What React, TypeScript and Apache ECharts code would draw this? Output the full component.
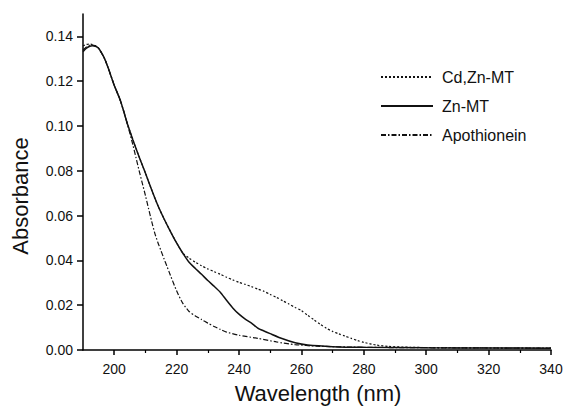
import React, { useEffect, useRef } from "react";
import * as echarts from "echarts";

// ---- data ----
const sharedWl = [190, 191, 192, 193, 194, 195, 196, 197, 198, 199, 200, 201, 202, 203, 204];
const cdZnHead = [0.1358, 0.1364, 0.1366, 0.1364, 0.1358, 0.1347, 0.1325, 0.1298, 0.1262, 0.1222, 0.1182, 0.1148, 0.1113, 0.1068, 0.102];
const znHead = [0.1332, 0.1346, 0.1355, 0.1358, 0.1356, 0.1347, 0.1325, 0.1298, 0.1262, 0.1222, 0.1182, 0.1148, 0.1113, 0.1068, 0.102];
const apoHead = [0.134, 0.1352, 0.136, 0.1361, 0.1357, 0.1347, 0.1325, 0.1298, 0.1262, 0.1222, 0.1182, 0.1148, 0.1113, 0.1068, 0.102];

const metalWl = [205, 206, 208, 210, 212, 214, 216, 218, 220, 222];
const metalAbs = [0.0978, 0.0937, 0.0862, 0.079, 0.0715, 0.0645, 0.0585, 0.053, 0.0478, 0.0432];

const cdZnTailWl = [224, 226, 228, 230, 232, 234, 236, 238, 240, 242, 244, 246, 248, 250, 252, 254, 256, 258, 260, 262, 264, 266, 268, 270, 272, 274, 276, 278, 280, 284, 288, 295, 300, 320, 340];
const cdZnTailAbs = [0.041, 0.0392, 0.0376, 0.0362, 0.035, 0.0338, 0.0325, 0.0313, 0.0302, 0.0293, 0.0283, 0.0272, 0.0262, 0.0248, 0.0235, 0.022, 0.0205, 0.019, 0.0176, 0.0155, 0.0135, 0.0115, 0.0097, 0.0083, 0.0072, 0.0062, 0.0052, 0.0042, 0.0034, 0.0022, 0.0016, 0.0012, 0.0011, 0.0009, 0.0008];

const znTailWl = [224, 226, 228, 230, 232, 234, 236, 238, 240, 242, 244, 246, 248, 250, 254, 258, 262, 270, 280, 300, 320, 340];
const znTailAbs = [0.0392, 0.0364, 0.0338, 0.031, 0.0285, 0.0258, 0.0222, 0.0188, 0.016, 0.0138, 0.012, 0.0098, 0.0085, 0.0073, 0.005, 0.0032, 0.0022, 0.0015, 0.0012, 0.001, 0.0009, 0.0008];

const apoTailWl = [205, 206, 207, 208, 209, 210, 211, 212, 213, 214, 215, 216, 217, 218, 220, 222, 224, 226, 228, 230, 232, 234, 236, 240, 246, 252, 258, 265, 280, 300, 320, 340];
const apoTailAbs = [0.0968, 0.0915, 0.0858, 0.08, 0.0745, 0.069, 0.0632, 0.0575, 0.0522, 0.048, 0.0443, 0.0406, 0.037, 0.0334, 0.0264, 0.0208, 0.0172, 0.0152, 0.0136, 0.012, 0.0105, 0.0092, 0.008, 0.0066, 0.0052, 0.0036, 0.0024, 0.0017, 0.0012, 0.001, 0.0009, 0.0008];

const xMajorTicks = [200, 220, 240, 260, 280, 300, 320, 340];
const xMinorTicks = [210, 230, 250, 270, 290, 310, 330];
const yTicks = [0, 0.02, 0.04, 0.06, 0.08, 0.1, 0.12, 0.14];

const seriesNames = ["Cd,Zn-MT", "Zn-MT", "Apothionein"];

const zip = (xs: number[], ys: number[]) => xs.map((x, i) => [x, ys[i]]);

const cdZnData = [...zip(sharedWl, cdZnHead), ...zip(metalWl, metalAbs), ...zip(cdZnTailWl, cdZnTailAbs)];
const znData = [...zip(sharedWl, znHead), ...zip(metalWl, metalAbs), ...zip(znTailWl, znTailAbs)];
const apoData = [...zip(sharedWl, apoHead), ...zip(apoTailWl, apoTailAbs)];

const FONT = "'Liberation Sans', Arial, Helvetica, sans-serif";

export default function App() {
  const ref = useRef<HTMLDivElement>(null);
  useEffect(() => {
    if (!ref.current) return;
    const chart = echarts.init(ref.current, null, { renderer: "svg" });
    const axisLine = { show: true, lineStyle: { color: "#000", width: 1.5 } };
    chart.setOption({
      animation: false,
      backgroundColor: "#fff",
      color: ["#111", "#111", "#111"],
      textStyle: { fontFamily: FONT },
      grid: { left: 83, right: 15, top: 14, bottom: 60 },
      legend: {
        orient: "vertical",
        left: 380,
        top: 69,
        padding: 0,
        itemWidth: 52,
        itemHeight: 16,
        itemGap: 13,
        data: seriesNames,
        itemStyle: { opacity: 0 },
        textStyle: { fontFamily: FONT, fontSize: 16, color: "#111", padding: [0, 0, 0, 4] },
      },
      xAxis: [
        {
          type: "value",
          min: 190,
          max: 340,
          axisLine,
          splitLine: { show: false },
          axisTick: { show: true, inside: false, length: 5, customValues: xMajorTicks, lineStyle: { color: "#000", width: 1.5 } },
          axisLabel: { customValues: xMajorTicks, fontSize: 14, color: "#111", margin: 12, fontFamily: FONT },
        },
        {
          type: "value",
          min: 190,
          max: 340,
          position: "bottom",
          axisLine: { show: false },
          splitLine: { show: false },
          axisTick: { show: true, inside: false, length: 3, customValues: xMinorTicks, lineStyle: { color: "#000", width: 1.2 } },
          axisLabel: { show: false },
        },
      ],
      yAxis: {
        type: "value",
        min: 0,
        max: 0.15,
        axisLine,
        splitLine: { show: false },
        axisTick: { show: true, inside: false, length: 6, customValues: yTicks, lineStyle: { color: "#000", width: 1.5 } },
        axisLabel: {
          customValues: yTicks,
          fontSize: 14,
          color: "#111",
          margin: 10,
          fontFamily: FONT,
          formatter: (v: number) => v.toFixed(2),
        },
      },
      graphic: [
        {
          type: "text",
          x: 20,
          y: 196,
          rotation: Math.PI / 2,
          style: { text: "Absorbance", font: `22px ${FONT}`, fill: "#111", align: "center", verticalAlign: "middle" },
        },
        {
          type: "text",
          x: 318,
          y: 393,
          style: { text: "Wavelength (nm)", font: `22px ${FONT}`, fill: "#111", align: "center", verticalAlign: "middle" },
        },
      ],
      series: [
        {
          name: seriesNames[0],
          type: "line",
          data: cdZnData,
          symbol: "none",
          smooth: 0.2,
          itemStyle: { color: "#111" },
          lineStyle: { color: "#111", width: 1.2, type: [2, 2] },
        },
        {
          name: seriesNames[1],
          type: "line",
          data: znData,
          symbol: "none",
          smooth: 0.2,
          itemStyle: { color: "#111" },
          lineStyle: { color: "#111", width: 1.5, type: "solid" },
        },
        {
          name: seriesNames[2],
          type: "line",
          data: apoData,
          symbol: "none",
          smooth: 0.2,
          itemStyle: { color: "#111" },
          lineStyle: { color: "#111", width: 1.2, type: [5, 2, 1.5, 2] },
        },
      ],
    });
    return () => chart.dispose();
  }, []);
  return <div ref={ref} style={{ position: "absolute", left: 0, top: 0, width: 566, height: 410 }} />;
}
